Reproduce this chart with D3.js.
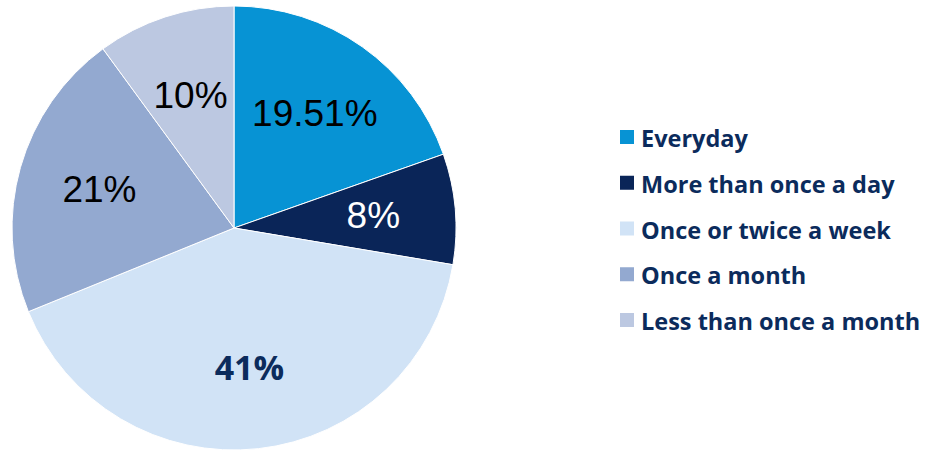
<!DOCTYPE html>
<html><head><meta charset="utf-8">
<script src="https://cdn.jsdelivr.net/npm/d3@7"></script>
<style>body{margin:0;background:#fff;} svg{display:block;}</style>
</head><body>
<svg id="c" width="930" height="450"></svg>
<script>
const categories = ["Everyday","More than once a day","Once or twice a week","Once a month","Less than once a month"];
const values = [19.51, 8, 41, 21, 10];
const labels = ["19.51%","8%","41%","21%","10%"];
const colors = ["#0793d4","#0a2558","#d1e3f6","#93a9d0","#bcc8e1"];
const labelColors = ["#000000","#ffffff","#0b2b5c","#000000","#000000"];

const svg = d3.select("#c");
const cx = 234, cy = 228, r = 222;
const g = svg.append("g").attr("transform", `translate(${cx},${cy})`);
const pie = d3.pie().sort(null).value(d => d);
const arcs = pie(values);
const arc = d3.arc().innerRadius(0).outerRadius(r);
g.selectAll("path").data(arcs).enter().append("path")
  .attr("d", arc).attr("fill", (d,i) => colors[i])
  .attr("stroke", "#fff").attr("stroke-width", 1);
const labelArc = d3.arc().innerRadius(r*0.63).outerRadius(r*0.63);
g.selectAll("text").data(arcs).enter().append("text")
  .attr("transform", d => `translate(${labelArc.centroid(d)})`)
  .attr("text-anchor","middle").attr("dominant-baseline","central")
  .attr("font-family", (d,i) => i===2 ? "Open Sans, sans-serif" : "Liberation Sans, Arial, sans-serif")
  .attr("font-size", (d,i) => i===2 ? 34 : 37)
  .attr("font-weight", (d,i) => i===2 ? 700 : 400)
  .attr("fill", (d,i) => labelColors[i])
  .text((d,i) => labels[i]);

const legend = svg.append("g");
const ly = d3.scalePoint().domain(categories).range([137, 320]);
const items = legend.selectAll("g").data(categories).enter().append("g")
  .attr("transform", d => `translate(620,${ly(d)})`);
items.append("rect").attr("x",0).attr("y",-7).attr("width",14).attr("height",14)
  .attr("fill", (d,i) => colors[i]);
items.append("text").attr("x",21).attr("y",1).attr("dominant-baseline","central")
  .attr("font-family","Open Sans, sans-serif").attr("font-weight",700)
  .attr("font-size",23.5).attr("fill","#0b2b5c").text(d => d);
</script>
</body></html>
